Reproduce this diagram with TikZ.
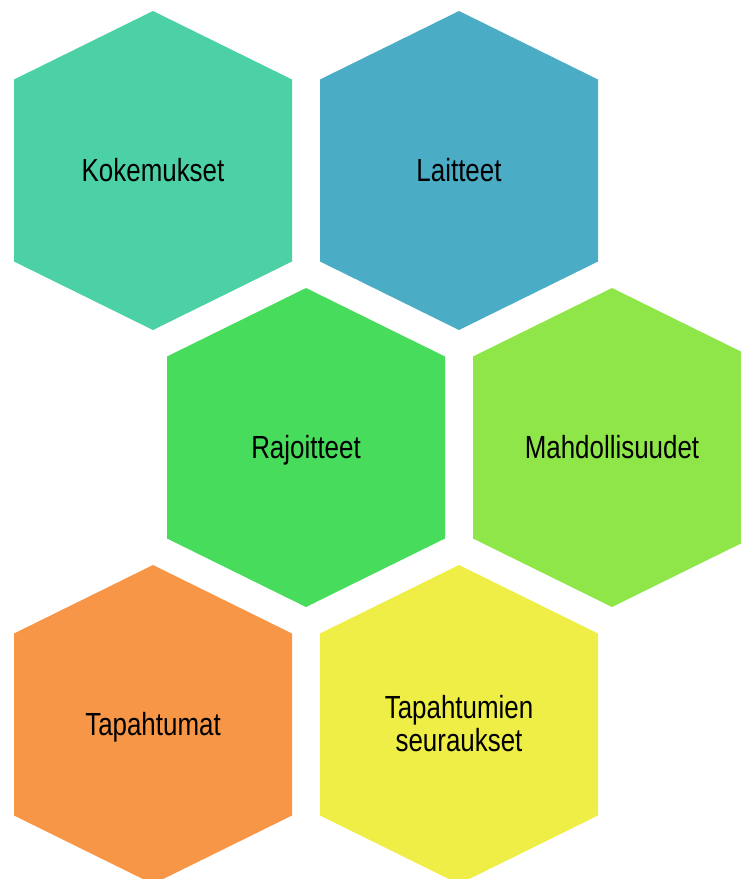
\documentclass[tikz,border=0pt]{standalone}
\usepackage{fontspec}
\usepackage{graphicx}
\setmainfont{Liberation Sans}
\definecolor{cA}{RGB}{75,209,165}
\definecolor{cB}{RGB}{75,172,198}
\definecolor{cC}{RGB}{71,220,92}
\definecolor{cD}{RGB}{143,230,73}
\definecolor{cE}{RGB}{247,150,70}
\definecolor{cF}{RGB}{238,238,71}
\tikzset{
  hexlabel/.style={align=center, anchor=base, font=\fontsize{32}{33}\selectfont, text=black, inner sep=0pt},
}
\newcommand{\hexpath}[3]{%
  \fill[#3] (#1,#2-159.5) -- (#1-139,#2-91) -- (#1-139,#2+91) -- (#1,#2+159.5) -- (#1+139,#2+91) -- (#1+139,#2-91) -- cycle;}
\newcommand{\sqz}[1]{\scalebox{0.81}[1]{#1}}
\begin{document}
\begin{tikzpicture}[x=1pt,y=-1pt]
\useasboundingbox (0,0) rectangle (741,879);
\clip (0,0) rectangle (741,879);
\hexpath{153}{170.5}{cA}
\hexpath{459}{170.5}{cB}
\hexpath{306}{447.5}{cC}
\hexpath{612}{447.5}{cD}
\hexpath{153}{724.5}{cE}
\hexpath{459}{724.5}{cF}
\node[hexlabel] (kok) at (153,181) {\sqz{Kokemukset}};
\node[hexlabel] (lai) at (459,181) {\sqz{Laitteet}};
\node[hexlabel] (raj) at (306,458) {\sqz{Rajoitteet}};
\node[hexlabel] (mah) at (612,458) {\sqz{Mahdollisuudet}};
\node[hexlabel] (tap) at (153,735) {\sqz{Tapahtumat}};
\node[hexlabel] (seu) at (459,751) {\sqz{Tapahtumien}\\\sqz{seuraukset}};
\end{tikzpicture}
\end{document}
